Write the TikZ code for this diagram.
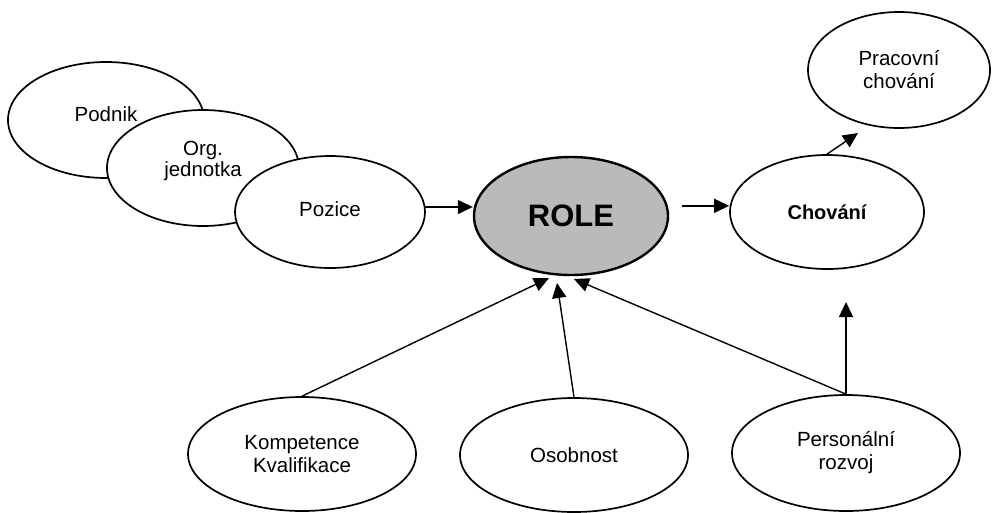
\documentclass[tikz,border=0pt]{standalone}
\usepackage{fontspec}
\setmainfont{Liberation Sans}
\usetikzlibrary{shapes.geometric,arrows.meta}
\begin{document}
\begin{tikzpicture}[x=1pt,y=-1pt,
  bubble/.style 2 args={ellipse,draw=black,line width=1.7pt,fill=white,
    inner sep=0pt,minimum width=#1,minimum height=#2,align=center,
    font=\fontsize{20.5pt}{23pt}\selectfont},
  rolebox/.style={bubble={194pt}{118pt},fill=black!27,line width=2.4pt,
    font=\fontsize{31pt}{34pt}\selectfont\bfseries},
  link/.style={line width=1.4pt},
  arr/.style={link,-{Triangle[length=15pt,width=14pt]}}
]
\useasboundingbox (0,0) rectangle (992,512);

% stacked context ovals, each drawn over the previous one
\node[bubble={196pt}{116pt},text depth=12pt] (podnik) at (106,120) {Podnik};
\node[bubble={192pt}{116pt},text depth=19pt,
  font=\fontsize{20.5pt}{21pt}\selectfont] (org) at (203,168) {Org.\\jednotka};
\node[bubble={190pt}{112pt},text depth=6pt] (pozice) at (330,212) {Pozice};

% central role
\node[rolebox] (role) at (571,216) {ROLE};

% behaviour
\node[bubble={194pt}{114pt},font=\fontsize{20pt}{23pt}\selectfont\bfseries] (chovani) at (827,212) {Chování};
\node[bubble={182pt}{116pt}] (pracovni) at (899,70) {Pracovní\\chování};

% influencing factors
\node[bubble={228pt}{114pt}] (kompetence) at (302,454) {Kompetence\\Kvalifikace};
\node[bubble={228pt}{114pt}] (osobnost) at (574,455) {Osobnost};
\node[bubble={228pt}{116pt}] (rozvoj) at (846,453) {Personální\\rozvoj};

% free arrow ends
\coordinate (tipPrac) at (858,133);
\coordinate (tipK) at (549,278);
\coordinate (tipO) at (557,283);
\coordinate (tipR) at (574,279);
\coordinate (tipCh) at (846,302);

\draw[arr] (pozice.3) -- (pozice.3 -| role.west);
\draw[arr,shorten <=14pt] (role.6) -- (role.6 -| chovani.west);
\draw[arr] (chovani.north) -- (tipPrac);
\draw[arr] (kompetence.north) -- (tipK);
\draw[arr] (osobnost.north) -- (tipO);
\draw[arr] (rozvoj.north) -- (tipR);
\draw[arr] (rozvoj.north) -- (tipCh);
\end{tikzpicture}
\end{document}
